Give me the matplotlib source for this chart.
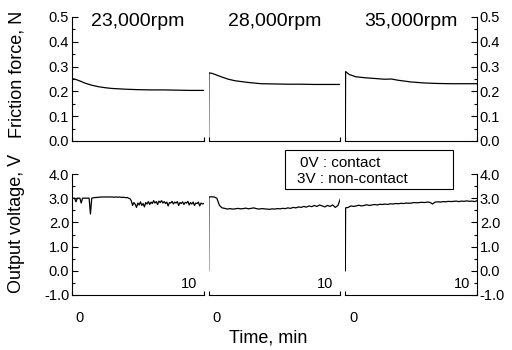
import matplotlib.pyplot as plt
import numpy as np
from matplotlib.patches import Rectangle
from matplotlib.ticker import MultipleLocator, FormatStrFormatter

plt.rcParams['font.family'] = ['Liberation Sans', 'DejaVu Sans']

speeds = ["23,000rpm", "28,000rpm", "35,000rpm"]

# friction force, N
t_f1 = [0, 0.3, 0.7, 1.0, 1.5, 2.0, 2.5, 3.0, 4.0, 5.0, 6.0, 7.0, 8.0, 9.0, 10.0]
f1 = [0.252, 0.248, 0.24, 0.233, 0.225, 0.219, 0.215, 0.212, 0.209, 0.207, 0.206, 0.206, 0.205, 0.204, 0.204]
t_f2 = [0, 0.02, 0.3, 1.0, 1.5, 2.0, 3.0, 4.0, 5.0, 6.0, 7.0, 8.0, 9.0, 10.0]
f2 = [0.0, 0.275, 0.272, 0.258, 0.249, 0.243, 0.236, 0.231, 0.23, 0.229, 0.229, 0.228, 0.228, 0.228]
t_f3 = [0, 0.02, 0.3, 0.8, 1.5, 2.5, 3.0, 3.5, 4.0, 5.0, 6.0, 7.0, 8.0, 9.0, 10.0]
f3 = [0.0, 0.28, 0.268, 0.259, 0.255, 0.251, 0.249, 0.25, 0.245, 0.238, 0.234, 0.232, 0.231, 0.231, 0.231]

# output voltage, V
t_v1 = np.arange(0, 10.01, 0.1)
v1 = [3.0, 3.0, 3.0, 2.85, 3.0, 3.0, 3.0, 2.8, 3.0, 3.0,
      3.0, 3.0, 3.0, 3.0, 2.35, 3.0, 3.02, 3.02, 3.03, 3.03,
      3.04, 3.04, 3.05, 3.05, 3.05, 3.05, 3.05, 3.05, 3.05, 3.05,
      3.05, 3.05, 3.04, 3.05, 3.05, 3.04, 3.05, 3.04, 3.03, 3.04,
      3.03, 3.02, 3.03, 3.0, 2.98, 2.9, 2.7, 2.82, 2.75, 2.62,
      2.8, 2.72, 2.85, 2.7, 2.78, 2.64, 2.82, 2.76, 2.86, 2.74,
      2.84, 2.78, 2.9, 2.8, 2.86, 2.74, 2.88, 2.82, 2.9, 2.8,
      2.86, 2.78, 2.84, 2.68, 2.82, 2.8, 2.87, 2.76, 2.84, 2.8,
      2.86, 2.7, 2.82, 2.78, 2.85, 2.74, 2.83, 2.8, 2.87, 2.72,
      2.82, 2.76, 2.84, 2.7, 2.8, 2.78, 2.84, 2.68, 2.8, 2.76,
      2.78]
t_v = np.arange(0, 10.01, 0.2)
v2 = [3.05, 3.06, 3.05, 3.0, 2.7, 2.6, 2.58, 2.55, 2.57, 2.55,
      2.56, 2.58, 2.56, 2.57, 2.59, 2.56, 2.58, 2.6, 2.57, 2.55,
      2.57, 2.56, 2.55, 2.54, 2.56, 2.55, 2.57, 2.56, 2.58, 2.57,
      2.6, 2.58, 2.62, 2.6, 2.64, 2.62, 2.66, 2.63, 2.68, 2.65,
      2.7, 2.66, 2.72, 2.68, 2.64, 2.7, 2.66, 2.72, 2.62, 2.7, 3.0]
v3 = [2.6, 2.62, 2.68, 2.66, 2.68, 2.71, 2.68, 2.7, 2.73, 2.7,
      2.72, 2.74, 2.72, 2.75, 2.74, 2.76, 2.74, 2.77, 2.76, 2.78,
      2.77, 2.79, 2.78, 2.8, 2.79, 2.8, 2.82, 2.81, 2.82, 2.83,
      2.82, 2.84, 2.83, 2.76, 2.84, 2.85, 2.84, 2.86, 2.85, 2.87,
      2.86, 2.87, 2.88, 2.86, 2.88, 2.87, 2.89, 2.87, 2.88, 2.86, 2.9]

fig = plt.figure(figsize=(5.12, 3.5), dpi=100)

left, right, gap = 72 / 512, 477 / 512, 5 / 512
w = (right - left - 2 * gap) / 3
rows = [(1 - 141 / 350, (141 - 17) / 350), (1 - 295 / 350, (295 - 174) / 350)]

fric = [(t_f1, f1), (t_f2, f2), (t_f3, f3)]
volt = [(t_v1, v1), (np.concatenate([[0], t_v + 0.02]), [0.0] + v2),
        (np.concatenate([[0], t_v + 0.02]), [0.0] + v3)]

for r, (b, h) in enumerate(rows):
    for i in range(3):
        ax = fig.add_axes([left + i * (w + gap), b, w, h])
        if r == 0:
            x, y = fric[i]
            ax.set_ylim(0, 0.5)
            ax.yaxis.set_major_locator(MultipleLocator(0.1))
            ax.yaxis.set_minor_locator(MultipleLocator(0.05))
        else:
            x, y = volt[i]
            ax.set_ylim(-1, 4)
            ax.yaxis.set_major_locator(MultipleLocator(1))
            ax.yaxis.set_minor_locator(MultipleLocator(0.5))
        ax.yaxis.set_major_formatter(FormatStrFormatter('%.1f'))
        ax.plot(x, y, color='black', lw=0.9)
        ax.set_xlim(0, 10)
        ax.set_xticks([0, 10])
        ax.set_xticklabels([])
        ax.tick_params(axis='x', direction='in', length=3, width=0.8)
        ax.spines['top'].set_visible(False)
        ax.spines['left'].set_visible(i == 0)
        ax.spines['right'].set_visible(i == 2)
        for s in ax.spines.values():
            s.set_linewidth(0.8)
        ax.tick_params(axis='y', which='both', direction='in', width=0.8,
                       labelsize=10.5, pad=2,
                       left=(i == 0), labelleft=(i == 0),
                       right=(i == 2), labelright=(i == 2))
        ax.tick_params(axis='y', which='major', length=4)
        ax.tick_params(axis='y', which='minor', length=2)
        ax.patch.set_visible(False)
        if r == 0:
            ax.text(0.5, 0.96, speeds[i], transform=ax.transAxes,
                    ha='center', va='center', fontsize=14)
        else:
            ax.text(9.5, 0.09, "10", transform=ax.get_xaxis_transform(),
                    ha='right', va='center', fontsize=10.5)
            ax.text(0.6, -0.19, "0", transform=ax.get_xaxis_transform(),
                    ha='center', va='center', fontsize=10.5)

fig.text(17 / 512, 1 - 74 / 350, "Friction force, N", rotation=90,
         ha='center', va='center', fontsize=13)
fig.text(17 / 512, 1 - 223 / 350, "Output voltage, V", rotation=90,
         ha='center', va='center', fontsize=13)
fig.text(268 / 512, 1 - 338 / 350, "Time, min", ha='center', va='center',
         fontsize=13)

fig.patches.append(Rectangle((285 / 512, 1 - 189 / 350), 168 / 512, 39 / 350,
                             transform=fig.transFigure, fill=False,
                             edgecolor='black', lw=0.8))
fig.text(300 / 512, 1 - 163 / 350, "0V : contact", ha='left', va='center', fontsize=11)
fig.text(297 / 512, 1 - 179 / 350, "3V : non-contact", ha='left', va='center', fontsize=11)

fig.savefig("out.png", dpi=100)
